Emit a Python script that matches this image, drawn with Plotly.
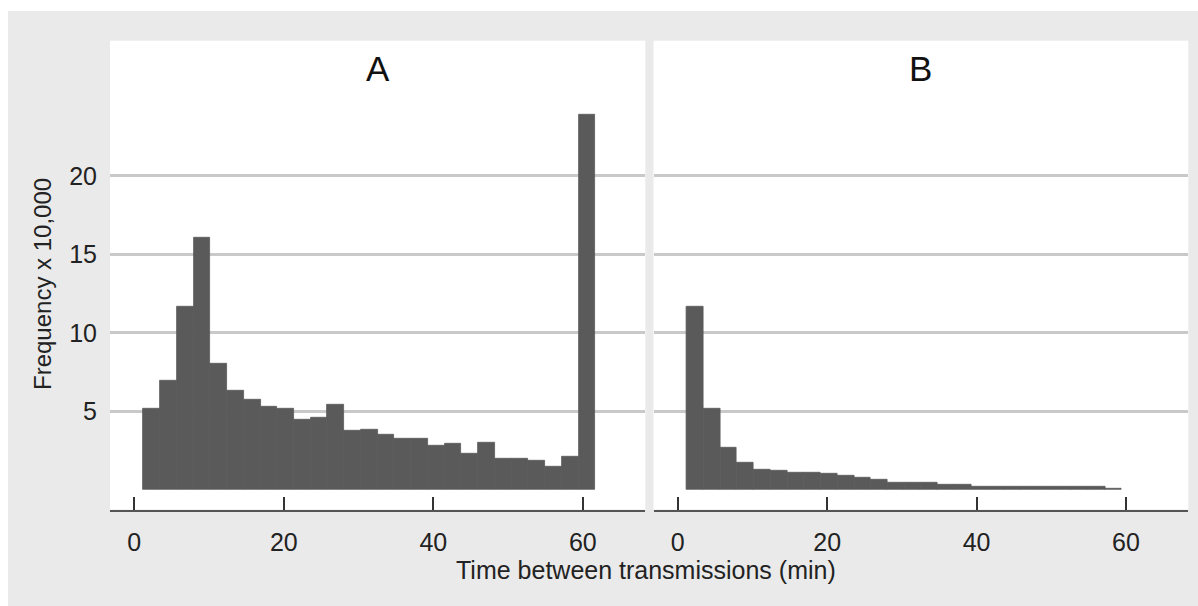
import plotly.graph_objects as go

# Histogram of time between transmissions, two groups (A, B)
bin_start = 1.2      # minutes, left edge of the first bin
bin_width = 2.24     # minutes per bin

freq_a = [5.17, 6.93, 11.67, 16.07, 8.00, 6.34, 5.76, 5.30, 5.17, 4.47,
          4.60, 5.40, 3.74, 3.85, 3.51, 3.28, 3.28, 2.79, 2.92, 2.32,
          3.02, 1.96, 1.96, 1.85, 1.49, 2.09, 23.88]
freq_b = [11.65, 5.17, 2.69, 1.74, 1.26, 1.24, 1.11, 1.11, 1.00, 0.90,
          0.75, 0.64, 0.43, 0.43, 0.43, 0.30, 0.30, 0.19, 0.19, 0.19,
          0.19, 0.19, 0.19, 0.19, 0.19, 0.04]

panel_titles = ["A", "B"]
x_ticks = [0, 20, 40, 60]
y_ticks = [5, 10, 15, 20]
x_title = "Time between transmissions (min)"
y_title = "Frequency x 10,000"


def centers(n):
    return [bin_start + bin_width * (i + 0.5) for i in range(n)]


W, H = 1198, 606
BAR = "#5A5A5A"
BG = "#EAEAEA"
FONT = "Liberation Sans, Arial, Helvetica, sans-serif"

fig = go.Figure()
for vals, xa, ya in [(freq_a, "x", "y"), (freq_b, "x2", "y2")]:
    fig.add_trace(go.Bar(
        x=centers(len(vals)), y=vals, width=bin_width,
        marker=dict(color=BAR, line=dict(color=BAR, width=0.8)),
        xaxis=xa, yaxis=ya, showlegend=False, hoverinfo="x+y",
    ))

y_dom = [1 - 509.5 / H, 1 - 40.7 / H]
x_range = [-3.25, 68.35]
y_range = [-1.262, 28.62]

xcommon = dict(
    range=x_range, tickvals=x_ticks, showgrid=False, zeroline=False,
    showline=True, linecolor="#555555", linewidth=2,
    ticks="inside", ticklen=13, tickwidth=1.5, tickcolor="#333333",
    ticklabelstandoff=9,
    tickfont=dict(family=FONT, size=25, color="#222222"),
)
ycommon = dict(
    range=y_range, tickvals=y_ticks, showgrid=True, gridcolor="#C9C9C9",
    gridwidth=2.5, zeroline=False, showline=False, ticks="",
    tickfont=dict(family=FONT, size=25, color="#222222"),
    domain=y_dom,
)

fig.update_layout(
    width=W, height=H,
    margin=dict(l=0, r=0, t=0, b=0),
    paper_bgcolor=BG, plot_bgcolor="white",
    bargap=0,
    xaxis=dict(domain=[110 / W, 645.3 / W], anchor="y", **xcommon),
    xaxis2=dict(domain=[653.5 / W, 1188.3 / W], anchor="y2", **xcommon),
    yaxis=dict(anchor="x", ticklabelstandoff=12, **ycommon),
    yaxis2=dict(anchor="x2", matches="y", showticklabels=False, **ycommon),
    font=dict(family=FONT, color="#222222"),
)

# white strips along the top and left edges of the page
fig.add_shape(type="rect", xref="paper", yref="paper", x0=0, x1=1,
              y0=1 - 11 / H, y1=1, fillcolor="white", line_width=0)
fig.add_shape(type="rect", xref="paper", yref="paper", x0=0, x1=8 / W,
              y0=0, y1=1, fillcolor="white", line_width=0)

# panel titles
for title, (l, r) in zip(panel_titles, [(110, 645.3), (653.5, 1188.3)]):
    fig.add_annotation(text=title, x=(l + r) / 2 / W, y=1 - 68 / H,
                       xref="paper", yref="paper", showarrow=False,
                       xanchor="center", yanchor="middle",
                       font=dict(family=FONT, size=35, color="#111111"))

fig.add_annotation(text=x_title, x=646 / W, y=1 - 570 / H,
                   xref="paper", yref="paper", showarrow=False,
                   xanchor="center", yanchor="middle",
                   font=dict(family=FONT, size=25, color="#222222"))
fig.add_annotation(text=y_title, x=42 / W, y=1 - 284 / H, textangle=-90,
                   xref="paper", yref="paper", showarrow=False,
                   xanchor="center", yanchor="middle",
                   font=dict(family=FONT, size=24, color="#222222"))

fig.write_html("out.html")
